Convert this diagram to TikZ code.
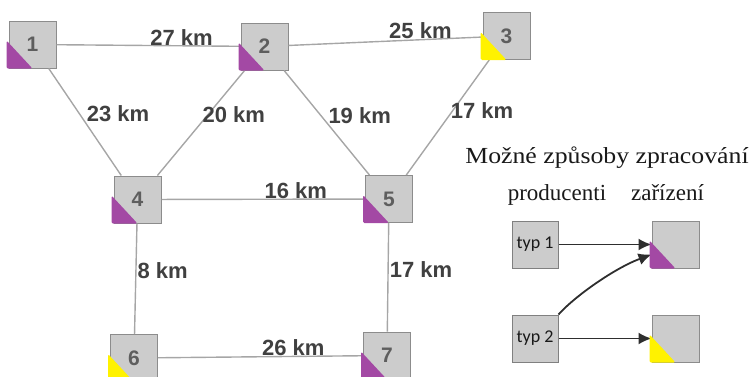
\documentclass[tikz,border=0pt]{standalone}
\usepackage{fontspec}
\setmainfont{Liberation Serif}
\newfontfamily\arialfont{Liberation Sans}
\newfontfamily\calibrifont{Carlito}
\newfontfamily\widefont[FakeStretch=1.12]{Liberation Serif}
\usetikzlibrary{positioning}
\usetikzlibrary{calc}
\usetikzlibrary{arrows.meta}
\definecolor{boxfill}{HTML}{CCCCCC}
\definecolor{boxline}{HTML}{8C8C8C}
\definecolor{roadline}{HTML}{A6A6A6}
\definecolor{labtext}{HTML}{404040}
\definecolor{numtext}{HTML}{5E5E5E}
\definecolor{purp}{HTML}{A349A4}
\definecolor{yell}{HTML}{FFF200}
\definecolor{arrowline}{HTML}{2E2E2E}
\tikzset{
  site/.style={draw=boxline, fill=boxfill, line width=1pt, minimum size=47pt,
    inner sep=0pt, text=numtext, font=\arialfont\bfseries\fontsize{21}{21}\selectfont},
  typbox/.style={draw=black!50, fill=boxfill, line width=1pt, minimum width=46pt,
    minimum height=47pt, inner sep=0pt, text=black!90, font=\calibrifont\fontsize{18}{18}\selectfont},
  road/.style={draw=roadline, line width=1.4pt},
  dist/.style={text=labtext, inner sep=0pt, font=\arialfont\bfseries\fontsize{22}{22}\selectfont},
  flow/.style={draw=arrowline, line width=1.8pt, -{Latex[length=13pt,width=12pt]}},
  head/.style={anchor=base, inner sep=0pt, text=black!90, font=\fontsize{23}{23}\selectfont}
}
% purple / yellow corner of a site
\newcommand*{\Corner}[2]{\fill[#2, rounded corners=1.5pt] ($(#1.south west)+(-2,0)$)
  -- ($(#1.south west)+(-2,-28)$) -- ($(#1.south west)+(24,0)$) -- cycle;}

\begin{document}
\begin{tikzpicture}[x=1pt,y=-1pt]
\useasboundingbox (0,0) rectangle (754,376);

% Sites
\node[site] (n1) at (32.5,44.5) {1};
\node[site] (n2) at (264.5,46.5) {2};
\node[site] (n3) at (506.5,36) {3};
\node[site] (n4) at (137.5,199.5) {4};
\node[site] (n5) at (389,199) {5};
\node[site] (n6) at (134,358) {6};
\node[site] (n7) at (387,355.5) {7};

% Roads with distances
\draw[road] (n1) -- (n2) node[dist, pos=0.68, above]{27 km};
\draw[road] (n2) -- (n3) node[dist, pos=0.68, above]{25 km};
\draw[road] (n1) -- (n4) node[dist, pos=0.42, right=7pt]{23 km};
\draw[road] (n2) -- (n4) node[dist, pos=0.42, anchor=west, xshift=-6pt]{20 km};
\draw[road] (n2) -- (n5) node[dist, pos=0.43, right=7pt]{19 km};
\draw[road] (n3) -- (n5) node[dist, pos=0.435, anchor=west, xshift=-3pt]{17 km};
\draw[road] (n4) -- (n5) node[dist, pos=0.66, above]{16 km};
\draw[road] (n4) -- (n6) node[dist, pos=0.43, right=1pt]{8 km};
\draw[road] (n5) -- (n7) node[dist, pos=0.43, right=1pt]{17 km};
\draw[road] (n6) -- (n7) node[dist, pos=0.66, above]{26 km};

\Corner{n1}{purp}
\Corner{n2}{purp}
\Corner{n3}{yell}
\Corner{n4}{purp}
\Corner{n5}{purp}
\Corner{n6}{yell}
\Corner{n7}{purp}

% Legend
\node[head, font=\widefont\fontsize{23}{23}\selectfont] (title) at (607,163) {Možné způsoby zpracování};
\node[head] (prodhead) at (557,200) {producenti};
\node[head] (devhead) at (667.5,200) {zařízení};

\node[typbox] (typ1) at (535,244.5) {typ 1};
\node[typbox, below=46pt of typ1] (typ2) {typ 2};
\node[site, right=93pt of typ1] (dev1) {};
\node[site, right=93pt of typ2] (dev2) {};

\draw[flow] (typ1.east) -- (typ1.east -| dev1.west);
\draw[flow] (typ2.north east) .. controls (575,296) and (615,268) .. ($(dev1.west)+(0,10)$);
\draw[flow] (typ2.east) -- (typ2.east -| dev2.west);

\Corner{dev1}{purp}
\Corner{dev2}{yell}

\end{tikzpicture}
\end{document}
